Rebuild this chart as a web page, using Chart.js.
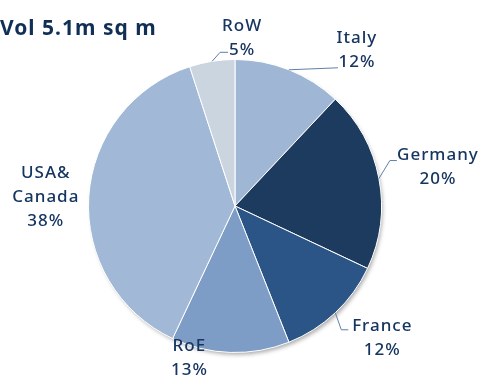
<!DOCTYPE html>
<html>
<head>
<meta charset="utf-8">
<script src="https://cdn.jsdelivr.net/npm/chart.js@4/dist/chart.umd.min.js"></script>
<style>
  html, body { margin: 0; padding: 0; background: #ffffff; }
  #wrap { width: 481px; height: 376px; }
</style>
</head>
<body>
<div id="wrap"><canvas id="c" width="481" height="376"></canvas></div>
<script>
// Regional split of volume
const regions = ['Italy', 'Germany', 'France', 'RoE', 'USA& Canada', 'RoW'];
const shares = [12, 20, 12, 13, 38, 5];
const labelLines = [['Italy'], ['Germany'], ['France'], ['RoE'], ['USA&', 'Canada'], ['RoW']];
const title = 'Vol 5.1m sq m';

const sliceColors = ['#9fb7d5', '#1d3a5f', '#2b5586', '#7d9dc7', '#a1b9d6', '#cbd5df'];
const textColor = '#163560';

// label placement relative to the slice's edge point: [dx, dy] of label centre,
// leader elbow [dx, dy], horizontal tail length (no elbow = no leader)
const labelPlace = [
  { label: [68, -20], elbow: [49, -2], tail: 0 },
  { label: [59, -11], elbow: [11, -18], tail: 7 },
  { label: [47, 25], elbow: [6, 17], tail: 7 },
  { label: [-41, 6], elbow: null, tail: 0 },
  { label: [-43, 0], elbow: null, tail: 0 },
  { label: [30, -23], elbow: [8, -9], tail: 8 }
];

const labelPlugin = {
  id: 'sliceLabels',
  beforeDatasetsDraw(chart) {
    const arc = chart.getDatasetMeta(0).data[0];
    if (!arc) return;
    const { x, y, outerRadius } = arc.getProps(['x', 'y', 'outerRadius'], true);
    const ctx = chart.ctx;
    ctx.save();
    ctx.shadowColor = 'rgba(0,0,0,0.35)';
    ctx.shadowBlur = 4;
    ctx.shadowOffsetX = 2;
    ctx.shadowOffsetY = 3;
    ctx.fillStyle = '#ffffff';
    ctx.beginPath();
    ctx.arc(x, y, outerRadius - 1, 0, Math.PI * 2);
    ctx.fill();
    ctx.restore();
  },
  afterDatasetsDraw(chart) {
    const ctx = chart.ctx;
    const meta = chart.getDatasetMeta(0);
    ctx.save();
    // title
    ctx.fillStyle = '#112f55';
    ctx.font = 'bold 21px "Noto Sans"';
    ctx.letterSpacing = '1px';
    ctx.textAlign = 'left';
    ctx.textBaseline = 'middle';
    ctx.fillText(title, 0, 29);

    ctx.font = '500 17px "Noto Sans"';
    ctx.letterSpacing = '1px';
    ctx.textAlign = 'center';
    meta.data.forEach((el, i) => {
      const p = el.getProps(['x', 'y', 'startAngle', 'endAngle', 'outerRadius'], true);
      const mid = (p.startAngle + p.endAngle) / 2;
      const ex = p.x + Math.cos(mid) * p.outerRadius;
      const ey = p.y + Math.sin(mid) * p.outerRadius;
      const place = labelPlace[i];
      if (place.elbow) {
        ctx.strokeStyle = '#5f7fa8';
        ctx.lineWidth = 1;
        ctx.beginPath();
        ctx.moveTo(ex, ey);
        const bx = ex + place.elbow[0], by = ey + place.elbow[1];
        ctx.lineTo(bx, by);
        if (place.tail) ctx.lineTo(bx + place.tail, by);
        ctx.stroke();
      }
      const lines = labelLines[i].concat([shares[i] + '%']);
      const cx = ex + place.label[0];
      const cy = ey + place.label[1];
      const lh = 24;
      ctx.fillStyle = textColor;
      lines.forEach((t, k) => {
        const ty = cy + (k - (lines.length - 1) / 2) * lh;
        ctx.fillText(t, cx, ty);
      });
    });
    ctx.restore();
  }
};

new Chart(document.getElementById('c'), {
  type: 'pie',
  data: {
    labels: regions,
    datasets: [{
      data: shares,
      backgroundColor: sliceColors,
      borderColor: '#ffffff',
      borderWidth: 1
    }]
  },
  options: {
    responsive: false,
    animation: false,
    layout: { padding: { left: 88, right: 99, top: 59, bottom: 23 } },
    plugins: {
      legend: { display: false },
      tooltip: { enabled: false },
      title: { display: false }
    }
  },
  plugins: [labelPlugin]
});
</script>
</body>
</html>
